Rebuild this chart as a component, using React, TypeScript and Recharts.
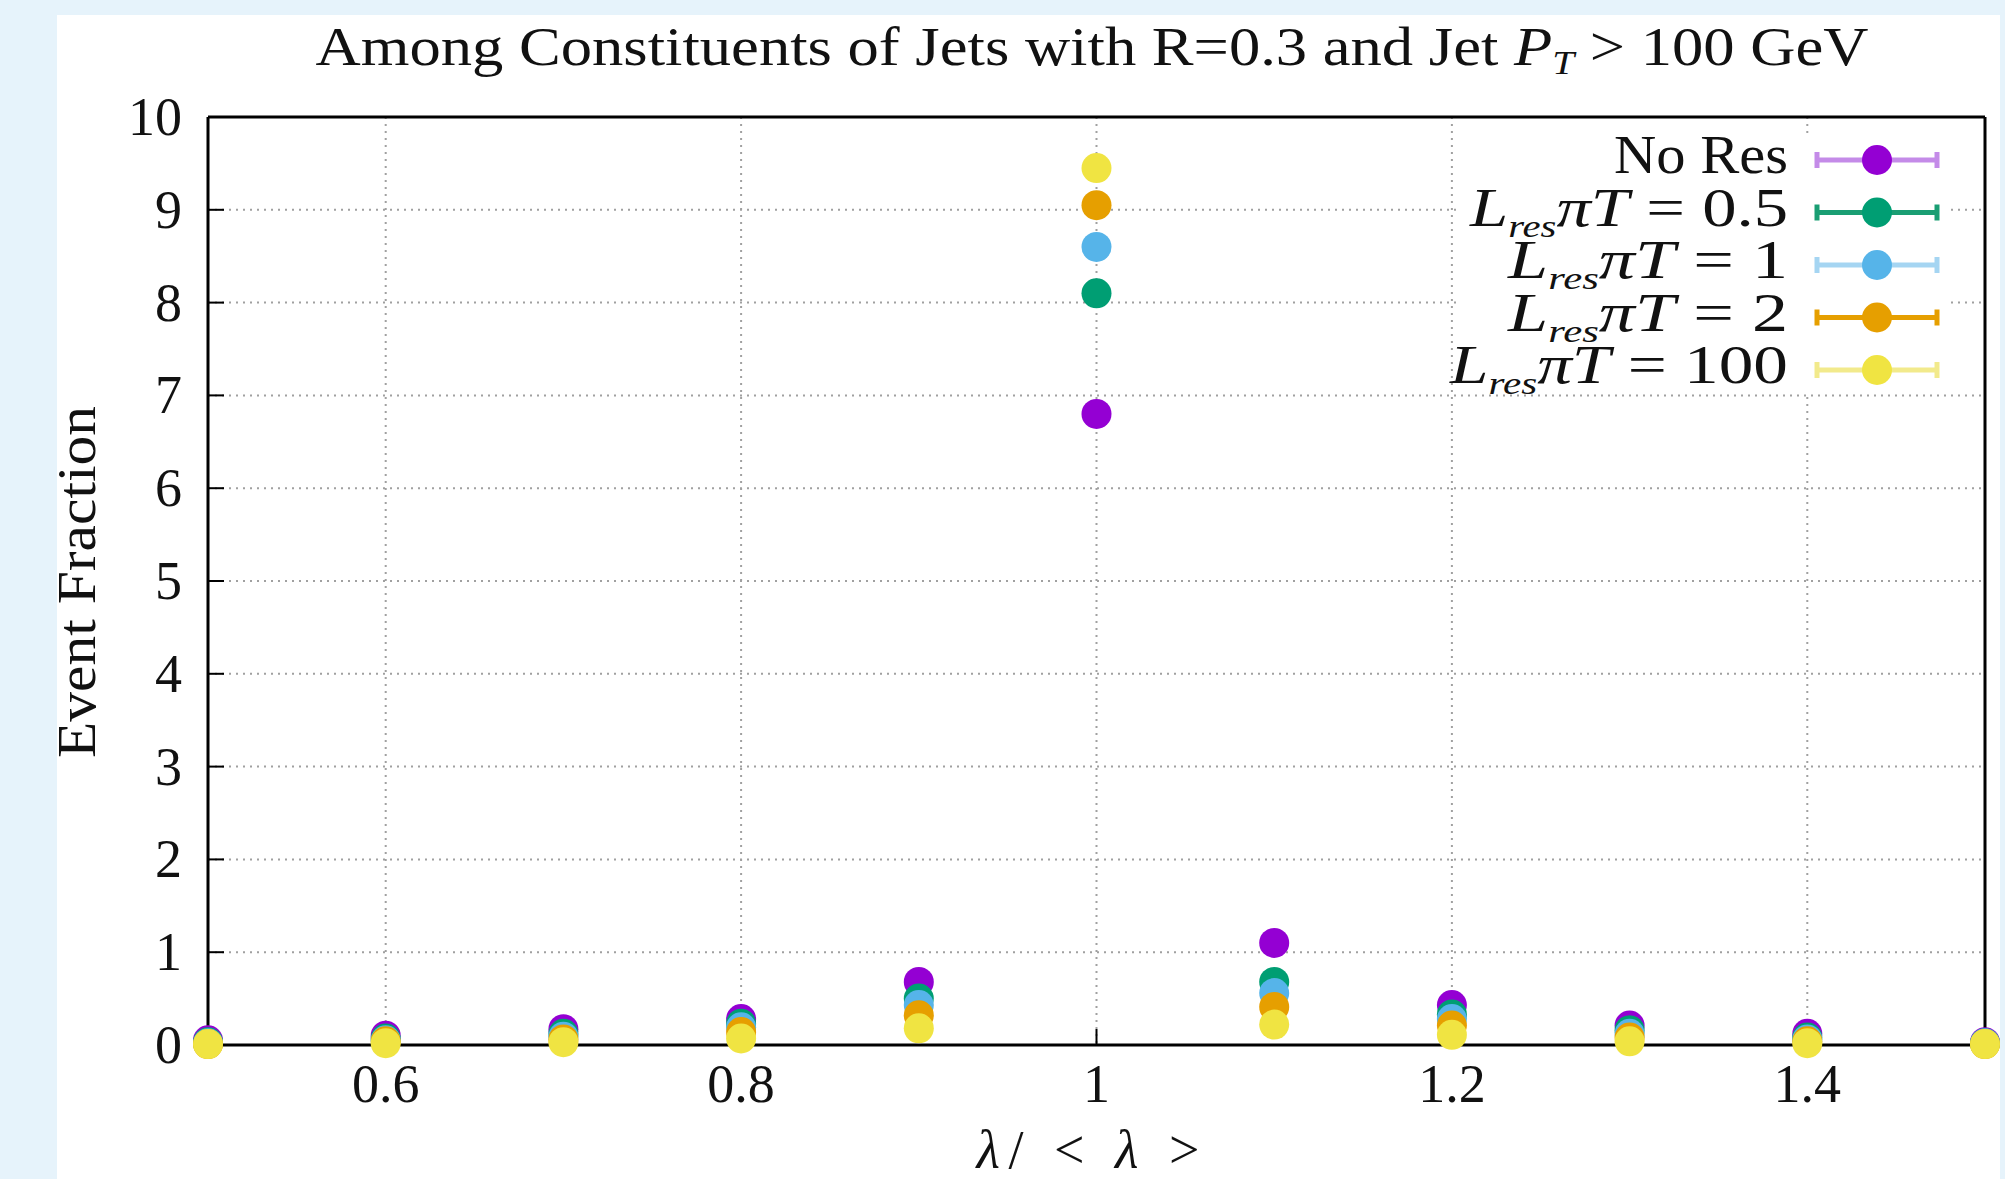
import React from "react";
import { ScatterChart, Scatter, XAxis, YAxis, CartesianGrid } from "recharts";

// lambda / <lambda> bin centres
const lambdaBins = [0.5, 0.6, 0.7, 0.8, 0.9, 1.0, 1.1, 1.2, 1.3, 1.4, 1.5];

// event fraction per bin
const noRes = [0.05, 0.1, 0.17, 0.28, 0.68, 6.8, 1.1, 0.43, 0.21, 0.12, 0.03];
const lres05 = [0.03, 0.07, 0.12, 0.23, 0.5, 8.1, 0.68, 0.33, 0.16, 0.08, 0.02];
const lres1 = [0.02, 0.05, 0.09, 0.19, 0.43, 8.6, 0.56, 0.28, 0.12, 0.06, 0.02];
const lres2 = [0.01, 0.04, 0.06, 0.14, 0.32, 9.05, 0.41, 0.21, 0.08, 0.04, 0.01];
const lres100 = [0.01, 0.02, 0.03, 0.07, 0.18, 9.45, 0.22, 0.11, 0.04, 0.02, 0.01];

const seriesLabels = ["No Res", "0.5", "1", "2", "100"];
const seriesColors = ["#9400d3", "#009e73", "#56b4e9", "#e69f00", "#f0e442"];
const legendLineColors = ["#c48be8", "#1a9e73", "#a5d5f2", "#e69f00", "#f2ea8c"];

const xTicks = [0.6, 0.8, 1, 1.2, 1.4];
const yTicks = [0, 1, 2, 3, 4, 5, 6, 7, 8, 9, 10];

const FONT = "'Liberation Serif', 'Times New Roman', serif";
const FS = 54;

const allValues = [noRes, lres05, lres1, lres2, lres100];
const series = allValues.map((vals, i) => ({
  name: seriesLabels[i],
  color: seriesColors[i],
  data: lambdaBins.map((x, j) => ({ x, y: vals[j] })),
}));

function XTick(props: any) {
  const { x, y, payload } = props;
  return (
    <text x={x} y={y + 57} textAnchor="middle" fontFamily={FONT} fontSize={FS} fill="#111">
      {String(payload.value)}
    </text>
  );
}

function YTick(props: any) {
  const { x, y, payload } = props;
  return (
    <text x={x - 26} y={y + 18} textAnchor="end" fontFamily={FONT} fontSize={FS} fill="#111">
      {String(payload.value)}
    </text>
  );
}

const Blank = () => <g />;

function LegendLabel({ label, x, y, width }: any) {
  if (label === "No Res") {
    return (
      <text x={x} y={y} textAnchor="end" fontFamily={FONT} fontSize={FS} fill="#111"
        textLength={width} lengthAdjust="spacingAndGlyphs">
        No Res
      </text>
    );
  }
  return (
    <text x={x} y={y} textAnchor="end" fontFamily={FONT} fontSize={FS} fill="#111"
      textLength={width} lengthAdjust="spacingAndGlyphs">
      <tspan fontStyle="italic">L</tspan>
      <tspan fontStyle="italic" fontSize={32} dy={11}>res</tspan>
      <tspan fontStyle="italic" dy={-11}>πT</tspan>
      <tspan> = {label}</tspan>
    </text>
  );
}

const legendWidths = [174, 318, 280, 280, 338];

export default function App() {
  const axisLine = { stroke: "#000", strokeWidth: 3 };
  const tickLine = { stroke: "#000", strokeWidth: 2 };
  return (
    <div style={{ position: "fixed", left: 0, top: 0, width: 2005, height: 1179, background: "#e6f3fb", overflow: "hidden" }}>
      <div style={{ position: "absolute", left: 57, top: 15, width: 1943, height: 1164, background: "#fff" }} />
      <div style={{ position: "absolute", left: 0, top: 0 }}>
        <ScatterChart width={2005} height={1179} margin={{ top: 116, right: 19, bottom: 34, left: 108 }}>
          <CartesianGrid stroke="#a0a0a0" strokeWidth={2} strokeDasharray="2 5" />
          {series.map((s) => (
            <Scatter
              key={s.name}
              name={s.name}
              data={s.data}
              fill={s.color}
              isAnimationActive={false}
              shape={(p: any) => <circle cx={p.cx} cy={p.cy} r={15} fill={s.color} />}
            />
          ))}
          <XAxis dataKey="x" type="number" domain={[0.5, 1.5]} ticks={xTicks} height={100}
            tickSize={-16} tickMargin={16} tick={<XTick />} axisLine={axisLine} tickLine={tickLine} />
          <YAxis dataKey="y" type="number" domain={[0, 10]} ticks={yTicks} width={100}
            tickSize={-16} tickMargin={16} tick={<YTick />} axisLine={axisLine} tickLine={tickLine} />
          <XAxis xAxisId="top" orientation="top" type="number" domain={[0.5, 1.5]} ticks={xTicks} height={1}
            tickSize={-16} tick={<Blank />} axisLine={axisLine} tickLine={tickLine} />
          <YAxis yAxisId="right" orientation="right" type="number" domain={[0, 10]} ticks={yTicks} width={1}
            tickSize={-16} tick={<Blank />} axisLine={axisLine} tickLine={tickLine} />
        </ScatterChart>
      </div>
      <svg width={2005} height={1179} style={{ position: "absolute", left: 0, top: 0, pointerEvents: "none" }}>
        <text x={1092} y={65} textAnchor="middle" fontFamily={FONT} fontSize={FS} fill="#111"
          textLength={1553} lengthAdjust="spacingAndGlyphs">
          Among Constituents of Jets with R=0.3 and Jet{" "}
          <tspan fontStyle="italic">P</tspan>
          <tspan fontStyle="italic" fontSize={34} dy={9}>T</tspan>
          <tspan dy={-9}> &gt; 100 GeV</tspan>
        </text>
        <text x={95} y={582} textAnchor="middle" fontFamily={FONT} fontSize={FS} fill="#111"
          transform="rotate(-90 95 582)" textLength={352} lengthAdjust="spacingAndGlyphs">
          Event Fraction
        </text>
        <text x={1088} y={1168} textAnchor="middle" fontFamily={FONT} fontSize={FS} fill="#111"
          textLength={223} lengthAdjust="spacing">
          <tspan fontStyle="italic">λ</tspan>/ &lt; <tspan fontStyle="italic">λ</tspan> &gt;
        </text>
        <rect x={1460} y={134} width={490} height={258} fill="#fff" />
        {series.map((s, i) => {
          const cy = 160 + i * 52.5;
          return (
            <g key={s.name}>
              <LegendLabel label={s.name} x={1788} y={cy + 13} width={legendWidths[i]} />
              <line x1={1815} x2={1939} y1={cy} y2={cy} stroke={legendLineColors[i]} strokeWidth={5} />
              <line x1={1817} x2={1817} y1={cy - 8} y2={cy + 8} stroke={legendLineColors[i]} strokeWidth={5} />
              <line x1={1937} x2={1937} y1={cy - 8} y2={cy + 8} stroke={legendLineColors[i]} strokeWidth={5} />
              <circle cx={1877} cy={cy} r={15} fill={s.color} />
            </g>
          );
        })}
      </svg>
    </div>
  );
}
